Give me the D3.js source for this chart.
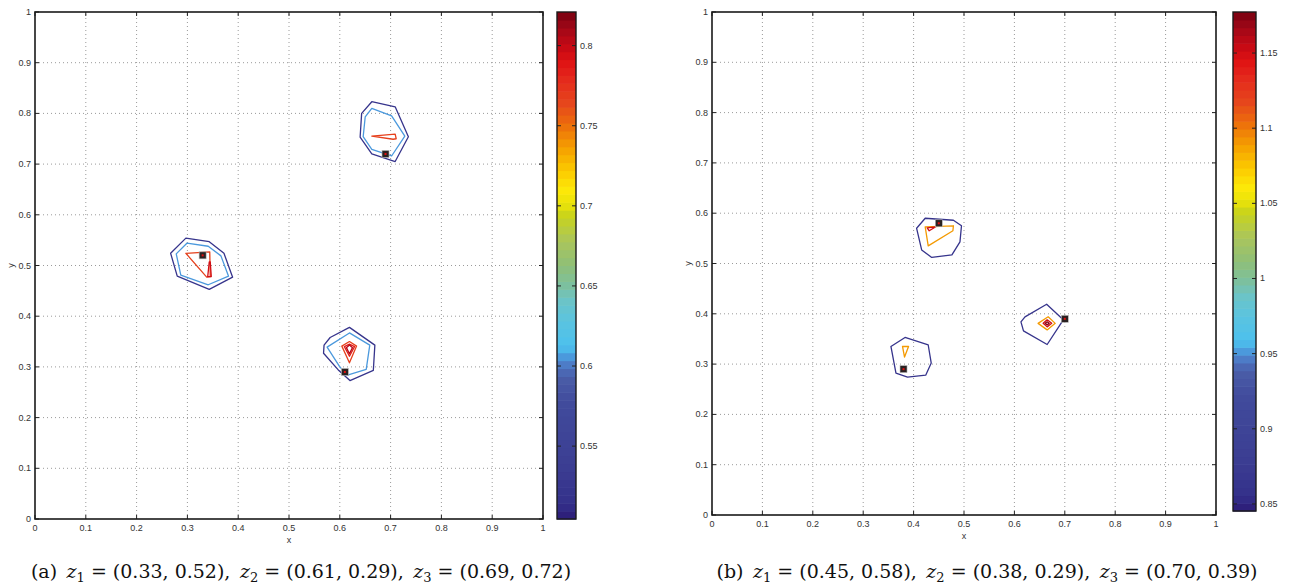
<!DOCTYPE html>
<html>
<head>
<meta charset="utf-8">
<script src="https://cdn.jsdelivr.net/npm/d3@7"></script>
<style>
  body { margin: 0; background: #fff; }
  svg { display: block; }
</style>
</head>
<body>
<div id="chart"></div>
<script>
// ---- data ----
const axisTicks = [0, 0.1, 0.2, 0.3, 0.4, 0.5, 0.6, 0.7, 0.8, 0.9, 1];
const axisTickLabels = ["0", "0.1", "0.2", "0.3", "0.4", "0.5", "0.6", "0.7", "0.8", "0.9", "1"];

// panel (a)
const centersA = [[0.33, 0.52], [0.61, 0.29], [0.69, 0.72]];
const cbRangeA = [0.5045, 0.821];
const cbTicksA = [0.55, 0.6, 0.65, 0.7, 0.75, 0.8];
const contoursA = [
    {level: 0.52, pts: [[0.663, 0.823], [0.709, 0.813], [0.735, 0.754], [0.709, 0.705], [0.663, 0.720], [0.640, 0.753], [0.643, 0.800]]},
    {level: 0.606, pts: [[0.663, 0.810], [0.702, 0.795], [0.728, 0.755], [0.702, 0.716], [0.663, 0.729], [0.646, 0.754], [0.650, 0.793]]},
    {level: 0.767, pts: [[0.663, 0.755], [0.709, 0.759], [0.711, 0.750], [0.705, 0.749]]},
    {level: 0.52, pts: [[0.297, 0.554], [0.343, 0.547], [0.372, 0.524], [0.389, 0.477], [0.343, 0.453], [0.280, 0.479], [0.267, 0.524]]},
    {level: 0.606, pts: [[0.299, 0.544], [0.341, 0.538], [0.366, 0.519], [0.381, 0.479], [0.341, 0.462], [0.287, 0.481], [0.278, 0.523]]},
    {level: 0.767, pts: [[0.297, 0.524], [0.344, 0.527], [0.345, 0.478], [0.338, 0.477]]},
    {level: 0.795, pts: [[0.340, 0.478], [0.343, 0.507], [0.345, 0.507], [0.347, 0.478]]},
    {level: 0.52, pts: [[0.619, 0.378], [0.669, 0.343], [0.666, 0.293], [0.620, 0.273], [0.597, 0.294], [0.568, 0.327], [0.569, 0.343], [0.581, 0.358]]},
    {level: 0.606, pts: [[0.619, 0.367], [0.659, 0.343], [0.652, 0.295], [0.615, 0.284], [0.600, 0.300], [0.575, 0.339]]},
    {level: 0.767, pts: [[0.619, 0.350], [0.633, 0.341], [0.619, 0.308], [0.604, 0.341]]},
    {level: 0.785, pts: [[0.619, 0.345], [0.629, 0.340], [0.619, 0.321], [0.609, 0.340]]},
    {level: 0.805, pts: [[0.619, 0.343], [0.625, 0.338], [0.619, 0.326], [0.613, 0.338]]}
];

// panel (b)
const centersB = [[0.45, 0.58], [0.38, 0.29], [0.70, 0.39]];
const cbRangeB = [0.8453, 1.1773];
const cbTicksB = [0.85, 0.9, 0.95, 1, 1.05, 1.1, 1.15];
const contoursB = [
    {level: 0.862, pts: [[0.423, 0.590], [0.479, 0.586], [0.495, 0.575], [0.492, 0.543], [0.476, 0.517], [0.436, 0.512], [0.416, 0.527], [0.406, 0.570]]},
    {level: 1.09, pts: [[0.423, 0.573], [0.479, 0.575], [0.478, 0.565], [0.429, 0.535]]},
    {level: 1.15, pts: [[0.427, 0.571], [0.444, 0.573], [0.431, 0.565]]},
    {level: 0.862, pts: [[0.383, 0.353], [0.429, 0.338], [0.435, 0.302], [0.424, 0.278], [0.388, 0.274], [0.365, 0.282], [0.355, 0.335]]},
    {level: 1.09, pts: [[0.378, 0.335], [0.390, 0.335], [0.382, 0.314]]},
    {level: 0.862, pts: [[0.664, 0.419], [0.697, 0.388], [0.665, 0.339], [0.618, 0.366], [0.613, 0.384], [0.621, 0.394]]},
    {level: 1.09, pts: [[0.667, 0.394], [0.681, 0.381], [0.665, 0.368], [0.647, 0.381]]},
    {level: 1.15, pts: [[0.665, 0.388], [0.674, 0.381], [0.665, 0.374], [0.657, 0.381]]},
    {level: 1.172, pts: [[0.665, 0.384], [0.669, 0.381], [0.665, 0.378], [0.661, 0.381]]}
];

const captionA = {tag: "(a)", parts: [["1", "(0.33, 0.52),"], ["2", "(0.61, 0.29),"], ["3", "(0.69, 0.72)"]]};
const captionB = {tag: "(b)", parts: [["1", "(0.45, 0.58),"], ["2", "(0.38, 0.29),"], ["3", "(0.70, 0.39)"]]};

// colormap stops (position 0..1 -> colour)
const cmapStops = [
    [0.00, "#2c1a76"], [0.03, "#34308a"], [0.10, "#3b3d92"], [0.23, "#414b9c"],
    [0.28, "#4a5da8"], [0.30, "#4d74c0"], [0.32, "#4b98dc"], [0.34, "#4cc0ee"],
    [0.39, "#5ac4e0"], [0.43, "#6bc4c8"], [0.46, "#7cc0a0"], [0.50, "#8fbf78"],
    [0.55, "#abc65a"], [0.60, "#cad41a"], [0.62, "#e8e20a"], [0.65, "#fde808"],
    [0.69, "#fbc800"], [0.73, "#f5a200"], [0.78, "#ec6c0c"], [0.82, "#e6461c"],
    [0.87, "#e4281c"], [0.90, "#e01414"], [0.93, "#c80a14"], [0.97, "#a00818"],
    [1.00, "#780010"]
];

// ---- drawing ----
const svg = d3.select("#chart").append("svg")
    .attr("width", 1291)
    .attr("height", 586)
    .style("font-family", "'Liberation Sans', Arial, sans-serif");

const cmap = d3.scaleLinear()
    .domain(cmapStops.map(d => d[0]))
    .range(cmapStops.map(d => d[1]))
    .interpolate(d3.interpolateRgb)
    .clamp(true);

function drawPanel(cfg) {
    let g = svg.append("g");

    let x = d3.scaleLinear().domain([0, 1]).range([cfg.ax.x0, cfg.ax.x1]);
    let y = d3.scaleLinear().domain([0, 1]).range([cfg.ax.y1, cfg.ax.y0]);
    let levelPos = d3.scaleLinear().domain(cfg.cbRange).range([0, 1]);
    let colorOf = v => cmap(levelPos(v));

    // grid
    let inner = axisTicks.filter(t => t > 0 && t < 1);
    g.append("g").selectAll("line.vg")
        .data(inner).join("line")
        .attr("x1", d => x(d)).attr("x2", d => x(d))
        .attr("y1", y(0)).attr("y2", y(1))
        .attr("stroke", "#9a9a9a").attr("stroke-width", 1)
        .attr("stroke-dasharray", "1,3");
    g.append("g").selectAll("line.hg")
        .data(inner).join("line")
        .attr("y1", d => y(d)).attr("y2", d => y(d))
        .attr("x1", x(0)).attr("x2", x(1))
        .attr("stroke", "#9a9a9a").attr("stroke-width", 1)
        .attr("stroke-dasharray", "1,3");

    // ticks inward on all sides
    let tl = 4;
    let tg = g.append("g").attr("stroke", "#222").attr("stroke-width", 1);
    axisTicks.forEach(t => {
        tg.append("line").attr("x1", x(t)).attr("x2", x(t)).attr("y1", y(0)).attr("y2", y(0) - tl);
        tg.append("line").attr("x1", x(t)).attr("x2", x(t)).attr("y1", y(1)).attr("y2", y(1) + tl);
        tg.append("line").attr("y1", y(t)).attr("y2", y(t)).attr("x1", x(0)).attr("x2", x(0) + tl);
        tg.append("line").attr("y1", y(t)).attr("y2", y(t)).attr("x1", x(1)).attr("x2", x(1) - tl);
    });

    // tick labels
    g.append("g").selectAll("text.xt")
        .data(axisTicks).join("text")
        .attr("x", d => x(d)).attr("y", y(0) + 12)
        .attr("text-anchor", "middle")
        .attr("font-size", 9).attr("fill", "#333")
        .text((d, i) => axisTickLabels[i]);
    g.append("g").selectAll("text.yt")
        .data(axisTicks).join("text")
        .attr("x", x(0) - 4).attr("y", d => y(d) + 3)
        .attr("text-anchor", "end")
        .attr("font-size", 9).attr("fill", "#333")
        .text((d, i) => axisTickLabels[i]);

    g.append("text")
        .attr("x", x(0.5)).attr("y", y(0) + 24)
        .attr("text-anchor", "middle").attr("font-size", 9).attr("fill", "#333")
        .text("x");
    g.append("text")
        .attr("transform", `translate(${x(0) - 21},${y(0.5)}) rotate(-90)`)
        .attr("text-anchor", "middle").attr("font-size", 9).attr("fill", "#333")
        .text("y");

    // contours
    let line = d3.line()
        .x(d => x(d[0]))
        .y(d => y(d[1]))
        .curve(d3.curveLinearClosed);
    g.append("g").selectAll("path")
        .data(cfg.contours).join("path")
        .attr("d", d => line(d.pts))
        .attr("fill", "none")
        .attr("stroke", d => colorOf(d.level))
        .attr("stroke-width", 1.3)
        .attr("stroke-linejoin", "round");

    // centres
    let mg = g.append("g");
    mg.selectAll("rect.sq")
        .data(cfg.centers).join("rect")
        .attr("x", d => x(d[0]) - 3.5).attr("y", d => y(d[1]) - 3.5)
        .attr("width", 7).attr("height", 7)
        .attr("fill", "#2a2222")
        .attr("stroke", "#bbb").attr("stroke-width", 0.6);
    mg.selectAll("rect.dot")
        .data(cfg.centers).join("rect")
        .attr("x", d => x(d[0]) - 1).attr("y", d => y(d[1]) - 1)
        .attr("width", 2).attr("height", 2)
        .attr("fill", "#e01010");

    // axes box
    g.append("rect")
        .attr("x", x(0)).attr("y", y(1))
        .attr("width", x(1) - x(0)).attr("height", y(0) - y(1))
        .attr("fill", "none").attr("stroke", "#1a1a1a").attr("stroke-width", 1.6);

    // colour bar
    let cb = cfg.cb;
    let cy = d3.scaleLinear().domain(cfg.cbRange).range([cb.y1, cb.y0]);
    let nBands = 64;
    let bands = d3.range(nBands);
    let bandH = (cb.y1 - cb.y0) / nBands;
    g.append("g").selectAll("rect")
        .data(bands).join("rect")
        .attr("x", cb.x0)
        .attr("y", d => cb.y1 - (d + 1) * bandH)
        .attr("width", cb.x1 - cb.x0)
        .attr("height", bandH + 0.6)
        .attr("fill", d => cmap((d + 0.5) / nBands));

    let cbt = g.append("g").attr("stroke", "#222").attr("stroke-width", 1);
    cfg.cbTicks.forEach(t => {
        cbt.append("line").attr("x1", cb.x0).attr("x2", cb.x0 + 4).attr("y1", cy(t)).attr("y2", cy(t));
        cbt.append("line").attr("x1", cb.x1).attr("x2", cb.x1 - 4).attr("y1", cy(t)).attr("y2", cy(t));
    });
    g.append("g").selectAll("text")
        .data(cfg.cbTicks).join("text")
        .attr("x", cb.x1 + 4).attr("y", d => cy(d) + 3)
        .attr("font-size", 9).attr("fill", "#333")
        .text(d => String(d));
    g.append("rect")
        .attr("x", cb.x0).attr("y", cb.y0)
        .attr("width", cb.x1 - cb.x0).attr("height", cb.y1 - cb.y0)
        .attr("fill", "none").attr("stroke", "#1a1a1a").attr("stroke-width", 1.4);

    // caption
    let cap = g.append("text")
        .attr("x", cfg.capX).attr("y", 578)
        .attr("text-anchor", "middle")
        .attr("font-family", "'DejaVu Serif', 'Liberation Serif', serif")
        .attr("font-size", 19)
        .attr("fill", "#111");
    cap.append("tspan").text(cfg.caption.tag + "\u2002");
    cfg.caption.parts.forEach((p, i) => {
        cap.append("tspan").attr("font-style", "italic").text((i > 0 ? "\u2002" : "") + "z");
        cap.append("tspan").attr("font-size", 13).attr("dy", 4).text(p[0]);
        cap.append("tspan").attr("dy", -4).text(" = " + p[1]);
    });
}

drawPanel({
    ax: {x0: 35, x1: 543, y0: 12, y1: 519},
    cb: {x0: 557, x1: 576, y0: 12, y1: 519},
    cbRange: cbRangeA, cbTicks: cbTicksA,
    contours: contoursA, centers: centersA,
    caption: captionA, capX: 301
});

drawPanel({
    ax: {x0: 712, x1: 1216, y0: 12, y1: 515},
    cb: {x0: 1233, x1: 1256, y0: 12, y1: 511},
    cbRange: cbRangeB, cbTicks: cbTicksB,
    contours: contoursB, centers: centersB,
    caption: captionB, capX: 987
});
</script>
</body>
</html>
